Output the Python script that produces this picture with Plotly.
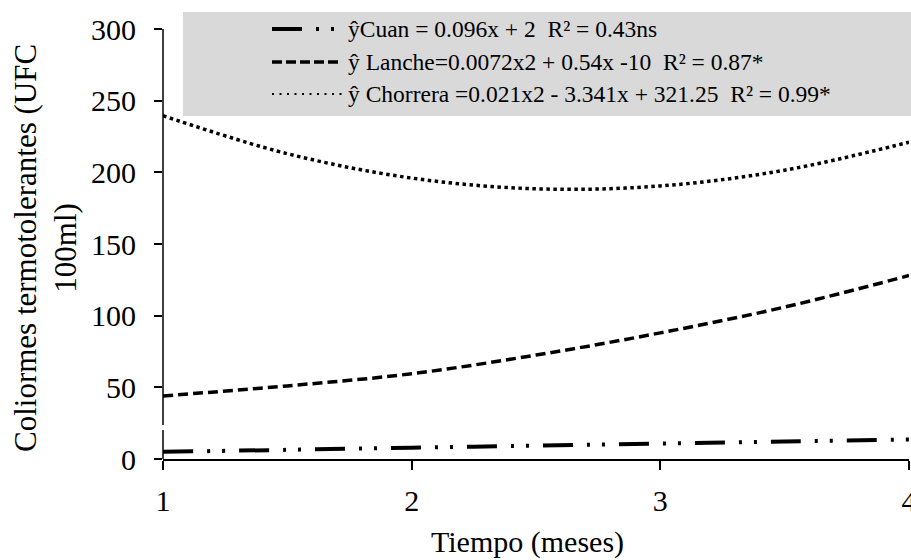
import plotly.graph_objects as go

# Tiempo (meses)
meses = [1, 1.5, 2, 2.5, 3, 3.5, 4]

# Coliformes termotolerantes (UFC/100 ml) por sitio
cuan = [5.0, 6.4, 7.9, 9.3, 10.8, 12.2, 13.6]
lanche = [44.0, 51.0, 59.5, 72.5, 88.0, 106.0, 128.0]
chorrera = [239.5, 213.0, 196.0, 188.5, 190.5, 201.5, 221.0]

eq_cuan = "ŷCuan = 0.096x + 2  R² = 0.43ns"
eq_lanche = "ŷ Lanche=0.0072x2 + 0.54x -10  R² = 0.87*"
eq_chorrera = "ŷ Chorrera =0.021x2 - 3.341x + 321.25  R² = 0.99*"

y_ticks = [0, 50, 100, 150, 200, 250, 300]
x_ticks = [1, 2, 3, 4]

FONT = "Liberation Serif, Times New Roman, serif"
W, H = 911, 560
L, R, T, B = 163, 2, 29, 101
PW, PH = W - L - R, H - T - B

DASH_CUAN = "30px,14px,3px,12px,3px,14px"
DASH_LANCHE = "10px,5px"
DASH_CHORRERA = "3.5px,3.5px"


def px(xp):
    return (xp - L) / PW


def py(yp):
    return (H - B - yp) / PH


fig = go.Figure()
fig.add_trace(go.Scatter(x=meses, y=chorrera, mode="lines", line=dict(color="black", width=3.5, dash=DASH_CHORRERA, shape="spline")))
fig.add_trace(go.Scatter(x=meses, y=lanche, mode="lines", line=dict(color="black", width=3.5, dash=DASH_LANCHE, shape="spline")))
fig.add_trace(go.Scatter(x=meses, y=cuan, mode="lines", line=dict(color="black", width=4, dash=DASH_CUAN, shape="spline")))

shapes = []
# y axis line, drawn in two pieces
for y0, y1 in [(0, 20.3), (23.8, 300)]:
    shapes.append(dict(type="line", xref="paper", yref="y", x0=0, x1=0, y0=y0, y1=y1,
                       line=dict(color="black", width=1.5)))

# legend box
shapes.append(dict(type="rect", xref="paper", yref="paper", x0=px(183), x1=px(915), y0=py(116), y1=py(12),
                   fillcolor="#d9d9d9", line=dict(width=0), layer="above"))

rows = [(29, DASH_CUAN, 4, 272, 336, eq_cuan),
        (62, "10px,4px", 3.5, 272, 340, eq_lanche),
        (94, "2px,5.5px", 2, 272, 342, eq_chorrera)]
annotations = []
for yp, dash, wd, xa, xb, txt in rows:
    shapes.append(dict(type="line", xref="paper", yref="paper", x0=px(xa), x1=px(xb), y0=py(yp), y1=py(yp),
                       line=dict(color="black", width=wd, dash=dash), layer="above"))
    annotations.append(dict(text=txt, xref="paper", yref="paper", x=px(346), y=py(yp), xanchor="left",
                            yanchor="middle", showarrow=False, font=dict(family=FONT, size=23.5, color="black")))

annotations.append(dict(text="Coliormes termotolerantes (UFC<br>100ml)", xref="paper", yref="paper",
                        x=px(45), y=py(248), xanchor="center", yanchor="middle", textangle=-90,
                        showarrow=False, font=dict(family=FONT, size=31, color="black")))
annotations.append(dict(text="Tiempo (meses)", xref="paper", yref="paper", x=px(527), y=py(542),
                        xanchor="center", yanchor="middle", showarrow=False,
                        font=dict(family=FONT, size=30, color="black")))

fig.update_layout(
    width=W, height=H,
    margin=dict(l=L, r=R, t=T, b=B, autoexpand=False),
    paper_bgcolor="white", plot_bgcolor="white",
    showlegend=False,
    shapes=shapes, annotations=annotations,
    font=dict(family=FONT, color="black"),
    xaxis=dict(range=[1, 4], tickvals=x_ticks, ticks="outside", ticklen=9, tickwidth=1.5, tickcolor="black",
               showline=True, linecolor="black", linewidth=1.5, showgrid=False, zeroline=False,
               tickfont=dict(family=FONT, size=30, color="black"), ticklabelstandoff=5,
               ticklabeloverflow="allow"),
    yaxis=dict(range=[0, 300], tickvals=y_ticks, ticks="outside", ticklen=8, tickwidth=1.5, tickcolor="black",
               showline=False, showgrid=False, zeroline=False,
               tickfont=dict(family=FONT, size=30, color="black"), ticklabelstandoff=12),
)

fig.write_html("out.html")
